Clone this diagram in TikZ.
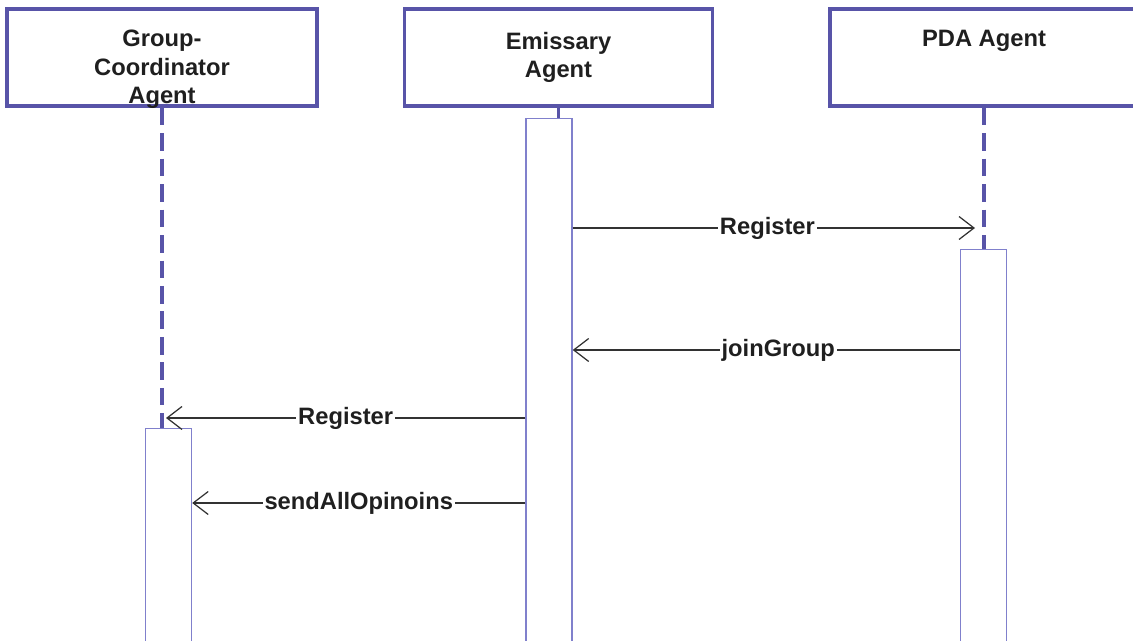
\documentclass[tikz,border=0pt]{standalone}
\usepackage{fontspec}
\setmainfont{Liberation Sans}
\usetikzlibrary{arrows.meta}
\definecolor{boxblue}{RGB}{88,84,168}
\definecolor{actblue}{RGB}{128,128,204}
\definecolor{msggray}{RGB}{50,50,50}
\begin{document}
\begin{tikzpicture}[x=0.02cm, y=-0.02cm,
		head/.style={draw=boxblue, line width=1.9pt, minimum width=6.2cm, minimum height=1.94cm, inner sep=0pt},
		headtext/.style={anchor=north, align=center, inner sep=0pt, text=black!88, font=\fontsize{13.5}{16.2}\selectfont\bfseries},
		life/.style={draw=boxblue, line width=2pt, dash pattern=on 10pt off 4.5pt},
		act/.style={draw=actblue, line width=0.8pt, fill=white, anchor=north, minimum width=0.92cm, minimum height=12cm, inner sep=0pt},
		msg/.style={draw=msggray, line width=0.7pt, -{Straight Barb[length=3mm,width=4.6mm]}},
		lbl/.style={fill=white, text=black!88, inner xsep=1pt, inner ysep=0pt, font=\fontsize{13.5}{16}\selectfont\bfseries}]
		    \useasboundingbox (0,0) rectangle (1133,641);
		    \clip (0,0) rectangle (1133,641);
		    \node[head] (gc) at (162, 57.5) {};
		    \node[head, minimum width=6.16cm] (em) at (558.5, 57.5) {};
		    \node[head, minimum width=6.16cm] (pda) at (984, 57.5) {};
		    \node[headtext] (gctext) at (162, 30) {Group-\\Coordinator\\Agent};
		    \node[headtext] (emtext) at (558.5, 32) {Emissary\\Agent};
		    \node[headtext] (pdatext) at (984, 30) {PDA Agent};

		    \node[act] (gcact) at (168.5, 428) {};
		    \node[act] (emact) at (549, 118) {};
		    \node[act] (pdaact) at (983.5, 249) {};

		    \draw[life] (gc.south) -- (gc.south |- gcact.north);
		    \draw[draw=boxblue, line width=2pt] (em.south) -- (em.south |- emact.north);
		    \draw[life] (pda.south) -- (pda.south |- pdaact.north);

		    \coordinate (pdatip) at (975, 228);
		    \coordinate (gctip) at (166, 418);
		    \draw[msg] (emact.east |- pdatip) -- node[lbl, pos=0.484] {Register} (pdatip);
		    \draw[msg] (pdaact.west |- 0,350) -- node[lbl, pos=0.469] {joinGroup} (emact.east |- 0,350);
		    \draw[msg] (emact.west |- gctip) -- node[lbl, pos=0.5] {Register} (gctip);
		    \draw[msg] (emact.west |- 0,503) -- node[lbl, pos=0.5] {sendAllOpinoins} (gcact.east |- 0,503);
		\end{tikzpicture}
\end{document}
